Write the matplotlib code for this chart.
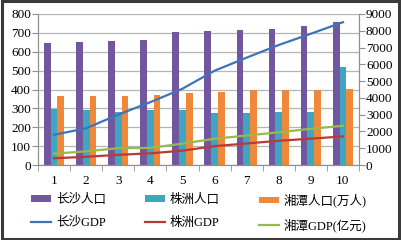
import matplotlib.pyplot as plt
import numpy as np
from matplotlib.patches import Rectangle

plt.rcParams['font.family'] = ['Liberation Serif', 'Noto Sans CJK SC']

# data
years = [1, 2, 3, 4, 5, 6, 7, 8, 9, 10]
cs_pop = [645, 652, 655, 662, 704, 709, 716, 722, 734, 755]
zz_pop = [295, 290, 283, 293, 293, 276, 276, 280, 280, 520]
xt_pop = [365, 368, 368, 373, 383, 388, 395, 395, 395, 402]
cs_gdp = [1799, 2190, 3001, 3745, 4547, 5619, 6399, 7153, 7824, 8510]
zz_gdp = [399, 490, 606, 696, 856, 1124, 1283, 1443, 1570, 1703]
xt_gdp = [676, 815, 1000, 1022, 1275, 1564, 1760, 1948, 2160, 2335]

PURPLE = '#7356a0'
TEAL = '#3fa6c0'
ORANGE = '#f0883c'
BLUE = '#3f74b8'
RED = '#b83a38'
GREEN = '#95bb4a'

fig = plt.figure(figsize=(4.01, 2.40), dpi=100)
fig.patch.set_facecolor('white')
fig.patches.append(Rectangle((0.004, 0.006), 0.992, 0.988, transform=fig.transFigure,
                             fill=False, edgecolor='#3a3a3a', lw=2.2))

ax = fig.add_axes([38 / 401, 75 / 240, 321 / 401, 151 / 240])
ax2 = ax.twinx()

x = np.array(years)
w = 0.21
b1 = ax.bar(x - w, cs_pop, w, color=PURPLE)
b2 = ax.bar(x, zz_pop, w, color=TEAL)
b3 = ax.bar(x + w, xt_pop, w, color=ORANGE)

l1, = ax2.plot(x, cs_gdp, color=BLUE, lw=1.6)
l2, = ax2.plot(x, zz_gdp, color=RED, lw=1.6)
l3, = ax2.plot(x, xt_gdp, color=GREEN, lw=1.6)

ax.set_xlim(0.5, 10.5)
ax.set_ylim(0, 800)
ax2.set_ylim(0, 9000)
ax.set_yticks(range(0, 801, 100))
ax2.set_yticks(range(0, 9001, 1000))
ax.set_xticks(years)
ax.set_xticks(np.arange(0.5, 10.6, 1), minor=True)
ax.tick_params(axis='x', which='major', length=0, pad=7, labelsize=9.5)
ax.tick_params(axis='x', which='minor', length=4, color='#909090')
ax.tick_params(axis='y', length=4, color='#909090', labelsize=9.5, pad=1)
ax2.tick_params(axis='y', length=4, color='#909090', labelsize=9.5, pad=1)

ax.grid(axis='y', color='#b5b5b5', lw=0.9)
ax.set_axisbelow(True)
for a in (ax, ax2):
    a.spines['top'].set_visible(False)
    for s in ('left', 'right', 'bottom'):
        a.spines[s].set_color('#909090')
        a.spines[s].set_linewidth(0.8)

# legend: three columns placed by hand
cols = [([b1, l1], ['长沙人口', '长沙GDP'], 31),
        ([b2, l2], ['株洲人口', '株洲GDP'], 145),
        ([b3, l3], ['湘潭人口(万人)', '湘潭GDP(亿元)'], 259)]
for handles, labels, xpx in cols:
    fig.legend(handles, labels, loc='upper left', bbox_to_anchor=(xpx / 401, 46 / 240),
               frameon=False, fontsize=9, handlelength=1.6, handleheight=0.4,
               handletextpad=0.4, labelspacing=0.85, borderpad=0, borderaxespad=0)

fig.savefig('out.png', dpi=100)
